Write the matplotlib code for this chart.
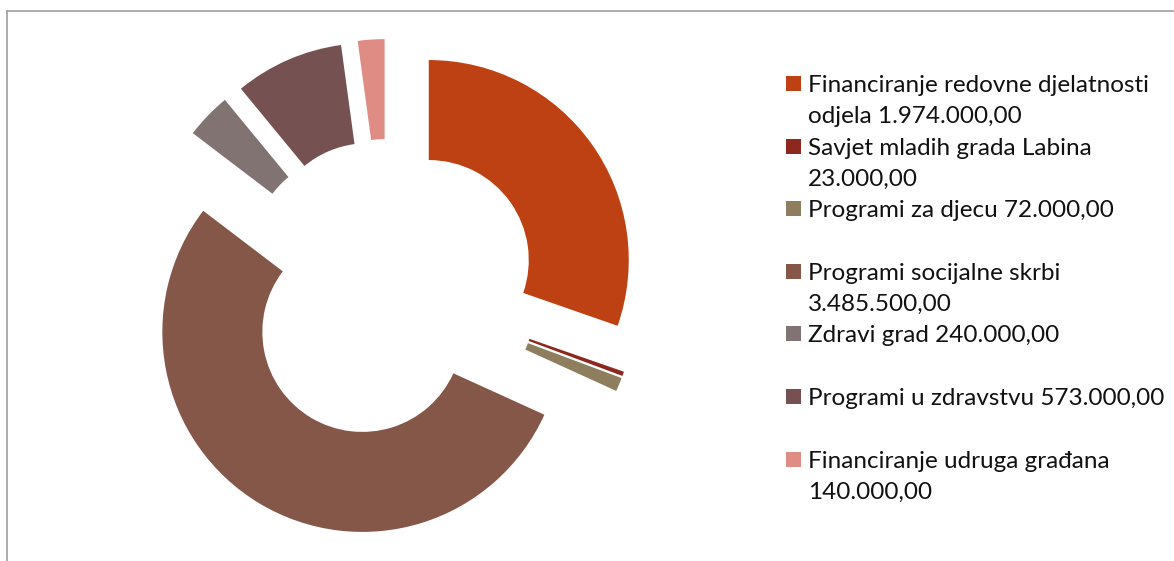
import textwrap
import matplotlib.pyplot as plt
from matplotlib.patches import Rectangle
from matplotlib.lines import Line2D

# data
categories = [
    "Financiranje redovne djelatnosti odjela",
    "Savjet mladih grada Labina",
    "Programi za djecu",
    "Programi socijalne skrbi",
    "Zdravi grad",
    "Programi u zdravstvu",
    "Financiranje udruga građana",
]
amounts = [1974000, 23000, 72000, 3485500, 240000, 573000, 140000]
colors = ["#BE4114", "#8C281E", "#8F7E5E", "#845748", "#807372", "#755151", "#DE8C84"]


def hr_money(v):
    # 1974000 -> 1.974.000,00
    s = f"{v:,.2f}"
    return s.replace(",", "X").replace(".", ",").replace("X", ".")


W, H = 1174, 561
fig = plt.figure(figsize=(W / 100, H / 100), dpi=100)

# donut: centre at (388, 289) px, outer radius 200 px
cx, cy, rad = 388, 289, 200
box = 1.5 * rad
ax = fig.add_axes([(cx - box) / W, (H - cy - box) / H, 2 * box / W, 2 * box / H])
ax.pie(amounts, colors=colors, startangle=90, counterclock=False,
       explode=[0.25] * len(amounts),
       wedgeprops=dict(width=0.5, linewidth=0))
ax.set_xlim(-1.5, 1.5)
ax.set_ylim(-1.5, 1.5)
ax.axis("off")

# chart frame (only top and left edges visible in the crop)
fig.add_artist(Line2D([6.5 / W, 6.5 / W], [0, 1 - 10.5 / H], transform=fig.transFigure,
                      color="#9e9e9e", lw=1.2))
fig.add_artist(Line2D([6.5 / W, 1], [1 - 10.5 / H, 1 - 10.5 / H], transform=fig.transFigure,
                      color="#9e9e9e", lw=1.2))

# legend, drawn by hand so every entry gets the same two-line slot
x_sw, x_txt = 786, 808
y0, slot, lead = 92, 62.6, 31.3
for i, (name, amt, col) in enumerate(zip(categories, amounts, colors)):
    lines = textwrap.wrap(f"{name} {hr_money(amt)}", 32)
    base = y0 + i * slot
    fig.add_artist(Rectangle((x_sw / W, 1 - (base - 1) / H), 15 / W, 15 / H,
                             transform=fig.transFigure, color=col, lw=0))
    for j, line in enumerate(lines):
        fig.text(x_txt / W, 1 - (base + j * lead) / H, line, fontsize=17.5,
                 va="baseline", family="Lato", color="#111111")

fig.savefig("out.png", dpi=100)
